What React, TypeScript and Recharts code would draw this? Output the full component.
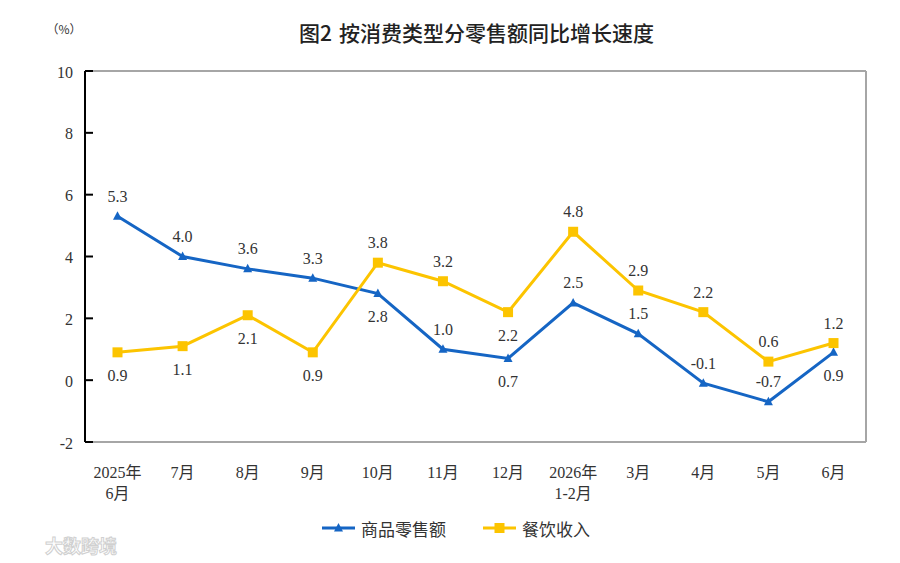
import { LineChart, Line, XAxis, YAxis } from "recharts";

// Year-on-year growth of retail sales by consumption type.

const months = [
  "2025年\n6月", "7月", "8月", "9月", "10月", "11月",
  "12月", "2026年\n1-2月", "3月", "4月", "5月", "6月",
];
const goodsRetail = [5.3, 4.0, 3.6, 3.3, 2.8, 1.0, 0.7, 2.5, 1.5, -0.1, -0.7, 0.9];
const catering = [0.9, 1.1, 2.1, 0.9, 3.8, 3.2, 2.2, 4.8, 2.9, 2.2, 0.6, 1.2];
const yTicks = [-2, 0, 2, 4, 6, 8, 10];

// label placement: "u" above the point, "d" below it
const goodsLabelSide = ["u", "u", "u", "u", "d", "u", "d", "u", "u", "u", "u", "d"];
const cateringLabelSide = ["d", "d", "d", "d", "u", "u", "d", "u", "u", "u", "u", "u"];

const BLUE = "#1565c4";
const YELLOW = "#fcc400";
const FRAME = "#a6a6a6";
const TEXT = "#333333";
const SERIF = "'Liberation Serif', 'Noto Sans CJK SC', serif";
const SANS = "'Noto Sans CJK SC', 'Noto Sans', sans-serif";

const data = months.map((m, i) => ({ m, goods: goodsRetail[i], food: catering[i] }));

function valueLabel(x: number, y: number, v: number, side: string) {
  return (
    <text
      x={x}
      y={side === "u" ? y - 20 : y + 23}
      textAnchor="middle"
      dominantBaseline="central"
      fontFamily={SERIF}
      fontSize={16}
      fill={TEXT}
    >
      {v.toFixed(1)}
    </text>
  );
}

function GoodsDot(p: any) {
  const { cx, cy, index, value } = p;
  return (
    <g key={`g${index}`}>
      <polygon points={`${cx},${cy - 5} ${cx + 4.5},${cy + 3.5} ${cx - 4.5},${cy + 3.5}`} fill={BLUE} />
      {valueLabel(cx, cy, value, goodsLabelSide[index])}
    </g>
  );
}

function FoodDot(p: any) {
  const { cx, cy, index, value } = p;
  return (
    <g key={`f${index}`}>
      <rect x={cx - 5} y={cy - 5} width={10} height={10} fill={YELLOW} />
      {valueLabel(cx, cy, value, cateringLabelSide[index])}
    </g>
  );
}

function MonthTick(p: any) {
  const { x, y, payload } = p;
  const lines = String(payload.value).split("\n");
  return (
    <text x={x} y={y} textAnchor="middle" fontFamily={SERIF} fontSize={16} fill={TEXT}>
      {lines.map((l, i) => (
        <tspan key={i} x={x} y={y + 22 + i * 21} dominantBaseline="central">
          {l}
        </tspan>
      ))}
    </text>
  );
}

function ValueTick(p: any) {
  const { x, y, payload } = p;
  return (
    <g>
      <line x1={x} y1={y} x2={x + 8} y2={y} stroke="#000" strokeWidth={2} />
      <text x={x - 12} y={y + 1} textAnchor="end" dominantBaseline="central" fontFamily={SERIF} fontSize={16} fill={TEXT}>
        {payload.value}
      </text>
    </g>
  );
}

export default function App() {
  return (
    <div style={{ position: "absolute", left: 0, top: 0, width: 900, height: 563, background: "#fff" }}>
      <LineChart width={900} height={563} data={data} margin={{ top: 70, right: 33, left: 0, bottom: 0 }}>
        <XAxis
          xAxisId="top"
          orientation="top"
          dataKey="m"
          height={1}
          tick={false}
          tickLine={false}
          axisLine={{ stroke: FRAME, strokeWidth: 2 }}
          padding={{ left: 32.5, right: 32.5 }}
        />
        <XAxis
          dataKey="m"
          height={121}
          interval={0}
          tickLine={false}
          tick={<MonthTick />}
          axisLine={{ stroke: FRAME, strokeWidth: 2 }}
          padding={{ left: 32.5, right: 32.5 }}
        />
        <YAxis
          yAxisId="r"
          orientation="right"
          width={1}
          domain={[-2, 10]}
          ticks={yTicks}
          tick={false}
          tickLine={false}
          axisLine={{ stroke: FRAME, strokeWidth: 2 }}
        />
        <YAxis
          width={85}
          domain={[-2, 10]}
          ticks={yTicks}
          interval={0}
          tickSize={0}
          tickMargin={0}
          tickLine={false}
          tick={<ValueTick />}
          axisLine={{ stroke: "#000", strokeWidth: 2 }}
        />
        <Line
          dataKey="goods"
          stroke={BLUE}
          strokeWidth={3}
          dot={GoodsDot}
          activeDot={false}
          isAnimationActive={false}
        />
        <Line
          dataKey="food"
          stroke={YELLOW}
          strokeWidth={3}
          dot={FoodDot}
          activeDot={false}
          isAnimationActive={false}
        />
      </LineChart>

      <svg width={900} height={563} style={{ position: "absolute", left: 0, top: 0, pointerEvents: "none" }}>
        <text y={32} dominantBaseline="central" fontFamily={SANS} fontSize={21} fontWeight={500} fill="#222">
          <tspan x={299}>图2</tspan>
          <tspan x={339}>按消费类型分零售额同比增长速度</tspan>
        </text>
        <text x={64} y={28} textAnchor="middle" dominantBaseline="central" fontFamily={SANS} fontSize={12} fill={TEXT}>
          （%）
        </text>

        <line x1={322} y1={528} x2={355} y2={528} stroke={BLUE} strokeWidth={3} />
        <polygon points="338.5,523 343,531.5 334,531.5" fill={BLUE} />
        <text x={361} y={528} dominantBaseline="central" fontFamily={SANS} fontSize={17} fill={TEXT}>
          商品零售额
        </text>
        <line x1={483} y1={528} x2={516} y2={528} stroke={YELLOW} strokeWidth={3} />
        <rect x={494.5} y={523} width={10} height={10} fill={YELLOW} />
        <text x={522} y={528} dominantBaseline="central" fontFamily={SANS} fontSize={17} fill={TEXT}>
          餐饮收入
        </text>

        <text x={45} y={545} dominantBaseline="central" fontFamily={SANS} fontSize={18} fontWeight={700} fill="#fff" stroke="#d0d0d0" strokeWidth={1}>
          大数跨境
        </text>
      </svg>
    </div>
  );
}
